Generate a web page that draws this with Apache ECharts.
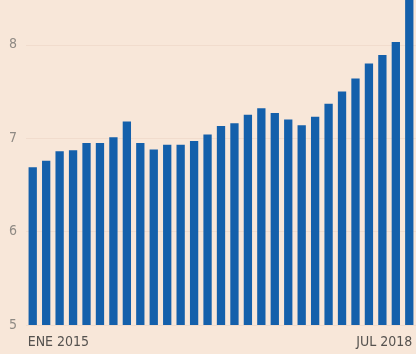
<!DOCTYPE html>
<html>
<head>
<meta charset="utf-8">
<script src="https://cdn.jsdelivr.net/npm/echarts@6/dist/echarts.min.js"></script>
<style>
html,body{margin:0;padding:0;background:#f8e7d9;}
#c{width:416px;height:354px;}
</style>
</head>
<body>
<div id="c"></div>
<script>
var categories = ['ENE 2015','','','','','','','','','','','','','','','','','','','','','','','','','','','','JUL 2018'];
var values = [6.69,6.76,6.86,6.87,6.95,6.95,7.01,7.18,6.95,6.88,6.93,6.93,6.97,7.04,7.13,7.16,7.25,7.32,7.27,7.20,7.14,7.23,7.37,7.50,7.64,7.80,7.89,8.03,8.60];
var yTicks = [5,6,7,8];

var font = "'Liberation Sans Narrow','DejaVu Sans Condensed',sans-serif";
var xData = categories.map(function(c, i){
  var item = {value: c};
  if (i === 0) item.textStyle = {align: 'left', padding: [0,0,0,-5]};
  if (i === categories.length - 1) item.textStyle = {align: 'right', padding: [0,-3,0,0]};
  return item;
});

var chart = echarts.init(document.getElementById('c'));
chart.setOption({
  backgroundColor: '#f8e7d9',
  animation: false,
  grid: {left: 26, right: -1, top: 0, bottom: 29, containLabel: false},
  xAxis: {
    type: 'category',
    data: xData,
    axisLine: {show: false},
    axisTick: {show: false},
    axisLabel: {
      interval: 0,
      margin: 10,
      color: '#55524f',
      fontSize: 14,
      fontFamily: font
    }
  },
  yAxis: {
    type: 'value',
    min: 5,
    max: 8.48,
    interval: 1,
    axisLine: {show: false},
    axisTick: {show: false},
    splitLine: {showMaxLine: false, lineStyle: {color: '#f1dccd', width: 1}},
    axisLabel: {
      margin: 9,
      color: '#8f8a84',
      fontSize: 14,
      fontFamily: font,
      showMaxLabel: false,
      formatter: function(v){ return yTicks.indexOf(v) >= 0 ? String(v) : ''; }
    }
  },
  series: [{
    type: 'bar',
    data: values,
    barWidth: 8.3,
    clip: true,
    itemStyle: {color: '#1460ab'}
  }]
});
</script>
</body>
</html>
